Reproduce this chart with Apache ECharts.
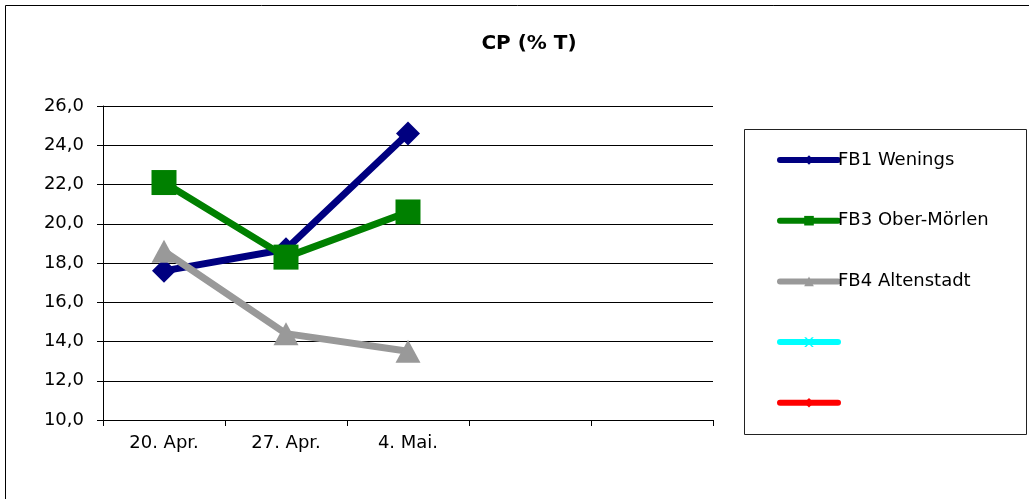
<!DOCTYPE html>
<html>
<head>
<meta charset="utf-8">
<script src="https://cdn.jsdelivr.net/npm/echarts@6/dist/echarts.min.js"></script>
<style>
html,body{margin:0;padding:0;background:#fff;}
#c{width:1029px;height:499px;}
</style>
</head>
<body>
<div id="c"></div>
<script>
const categories = ['20. Apr.', '27. Apr.', '4. Mai.', '', ''];
const fb1Wenings = [17.6, 18.7, 24.6, null, null];
const fb3OberMoerlen = [22.1, 18.3, 20.6, null, null];
const fb4Altenstadt = [18.6, 14.4, 13.5, null, null];
const series4 = [null, null, null, null, null];
const series5 = [null, null, null, null, null];
const seriesNames = ['FB1 Wenings', 'FB3 Ober-Mörlen', 'FB4 Altenstadt', ' ', '  '];
const yMin = 10, yMax = 26, yStep = 2;

const FONT = 'DejaVu Sans';
const chart = echarts.init(document.getElementById('c'));
const xPath = 'path://M0,0 L2,0 L5,3 L8,0 L10,0 L6,4 L6,6 L10,10 L8,10 L5,7 L2,10 L0,10 L4,6 L4,4 Z';

function mk(name, data, color, symbol, size) {
  return {
    name: name, type: 'line', data: data,
    symbol: symbol, symbolSize: size, showSymbol: true,
    lineStyle: {color: color, width: 7},
    itemStyle: {color: color},
    emphasis: {disabled: true},
    animation: false, connectNulls: false
  };
}

chart.setOption({
  animation: false,
  textStyle: {fontFamily: FONT},
  graphic: [
    {type: 'rect', shape: {x: 5.5, y: 5.5, width: 1030, height: 500}, style: {fill: 'none', stroke: '#000', lineWidth: 1}, silent: true},
    {type: 'rect', shape: {x: 744.5, y: 129.5, width: 282, height: 305}, style: {fill: '#fff', stroke: '#222', lineWidth: 1}, silent: true, z: -1},
    {type: 'text', x: 529, y: 44, style: {text: 'CP (% T)', font: 'bold 20px "DejaVu Sans"', fill: '#000', textAlign: 'center', textVerticalAlign: 'middle'}, silent: true}
  ],
  grid: {left: 103, top: 106, right: 316, bottom: 79, containLabel: false},
  legend: {
    orient: 'vertical', left: 777, top: 151,
    itemWidth: 58, itemHeight: 12, itemGap: 42.7,
    padding: 0,
    lineStyle: {width: 6, cap: 'round'},
    textStyle: {fontFamily: FONT, fontSize: 18, color: '#000', padding: [0, 0, 0, -5]},
    data: seriesNames.map(n => ({name: n})),
    selectedMode: false
  },
  xAxis: {
    type: 'category', data: categories, boundaryGap: true,
    axisLine: {lineStyle: {color: '#000', width: 1}},
    axisTick: {show: true, length: 6, lineStyle: {color: '#000'}},
    axisLabel: {fontFamily: FONT, fontSize: 18, color: '#000', margin: 14, interval: 0},
    splitLine: {show: false}
  },
  yAxis: {
    type: 'value', min: yMin, max: yMax, interval: yStep,
    axisLine: {show: true, lineStyle: {color: '#000', width: 1}},
    axisTick: {show: true, length: 6, lineStyle: {color: '#000'}},
    axisLabel: {fontFamily: FONT, fontSize: 18, color: '#000', margin: 19,
      formatter: v => v.toFixed(1).replace('.', ',')},
    splitLine: {show: true, lineStyle: {color: '#000', width: 1}}
  },
  series: [
    mk(seriesNames[0], fb1Wenings, '#000080', 'diamond', [24, 24]),
    mk(seriesNames[1], fb3OberMoerlen, '#008000', 'rect', [25, 25]),
    mk(seriesNames[2], fb4Altenstadt, '#999999', 'triangle', [25, 23]),
    mk(seriesNames[3], series4, '#00FFFF', xPath, [12, 12]),
    mk(seriesNames[4], series5, '#FF0000', 'diamond', [12, 12])
  ]
});
</script>
</body>
</html>
